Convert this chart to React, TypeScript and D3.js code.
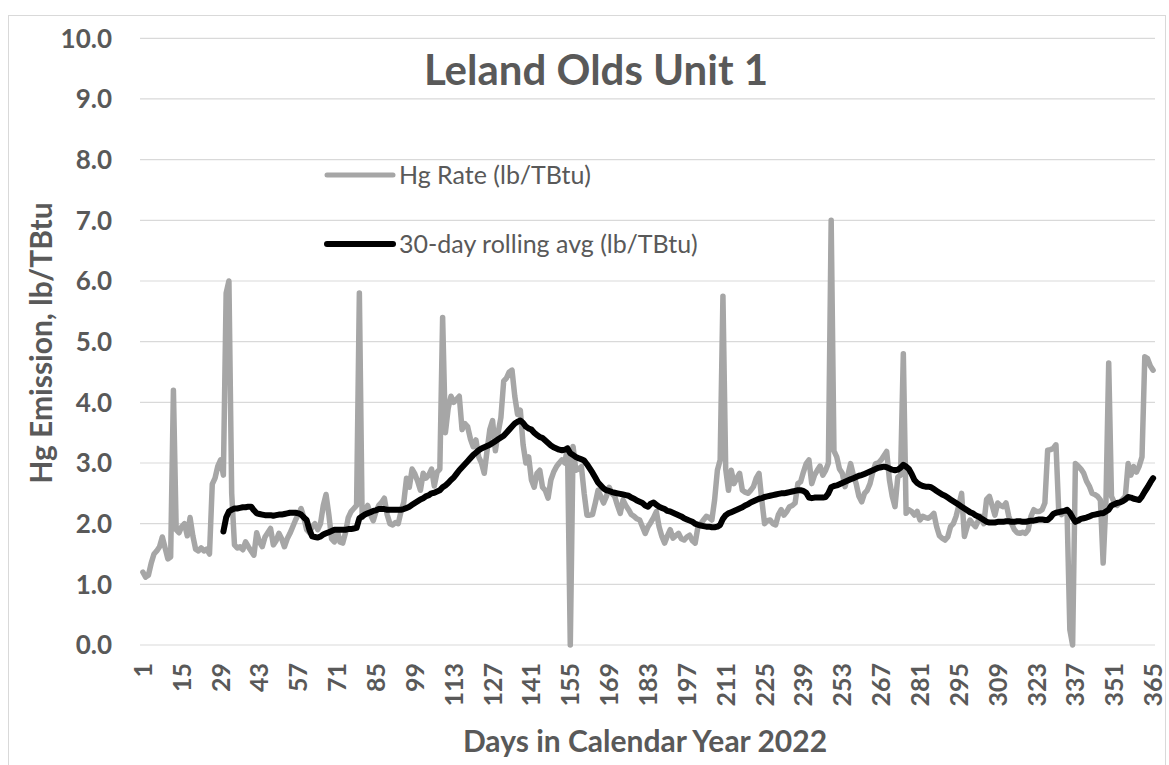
import React from 'react';
import * as d3 from 'd3';

// Hg rate per day, days 1..365 (lb/TBtu)
const hgRate: number[] = [
  1.2, 1.12, 1.15, 1.35, 1.5, 1.55, 1.62, 1.78, 1.6, 1.42,
  1.45, 4.2, 1.9, 1.85, 1.95, 2.0, 1.8, 2.1, 1.8, 1.58,
  1.55, 1.6, 1.55, 1.58, 1.5, 2.65, 2.75, 2.95, 3.05, 2.8,
  5.8, 6.0, 2.5, 1.65, 1.6, 1.62, 1.57, 1.7, 1.62, 1.55,
  1.48, 1.85, 1.7, 1.62, 1.78, 1.85, 1.92, 1.65, 1.72, 1.84,
  1.75, 1.62, 1.75, 1.84, 1.95, 2.06, 2.15, 2.25, 2.1, 1.9,
  1.85, 1.95, 2.0, 1.9, 2.0, 2.3, 2.48, 2.15, 1.75, 1.7,
  1.9, 1.7, 1.68, 1.85, 2.1, 2.2, 2.25, 2.3, 5.8, 2.1,
  2.2, 2.3, 2.15, 2.05, 2.2, 2.3, 2.35, 2.42, 2.15, 2.0,
  1.98, 2.02, 2.0, 2.2, 2.35, 2.75, 2.6, 2.9, 2.82, 2.7,
  2.55, 2.83, 2.75, 2.8, 2.9, 2.62, 2.85, 2.9, 5.4, 3.5,
  3.9, 4.1, 4.0, 4.05, 4.1, 3.55, 3.65, 3.6, 3.4, 3.27,
  3.38, 3.1, 3.0, 2.83, 3.2, 3.55, 3.7, 3.2, 3.5, 3.75,
  4.35, 4.4, 4.5, 4.53, 4.1, 3.8, 3.87, 3.3, 3.0, 3.1,
  2.72, 2.6, 2.83, 2.88, 2.6, 2.55, 2.42, 2.72, 2.85, 2.94,
  3.0, 3.05, 3.0, 3.25, 0.0, 3.27, 2.88, 2.9, 2.94, 2.5,
  2.14, 2.14, 2.15, 2.34, 2.55, 2.45, 2.34, 2.45, 2.6, 2.5,
  2.45, 2.3, 2.17, 2.39, 2.3, 2.23, 2.15, 2.12, 2.08, 2.06,
  1.95, 1.84, 1.95, 2.02, 2.1, 2.2, 1.95, 1.79, 1.68, 1.8,
  1.9, 1.76, 1.8, 1.84, 1.75, 1.73, 1.78, 1.81, 1.72, 1.68,
  1.95, 2.0, 2.06, 2.12, 2.1, 2.06, 2.39, 2.88, 3.05, 5.75,
  2.9, 2.55, 2.88, 2.66, 2.75, 2.83, 2.55, 2.52, 2.5, 2.55,
  2.61, 2.75, 2.83, 2.39, 2.0, 2.05, 2.06, 2.0, 1.98, 2.15,
  2.23, 2.14, 2.2, 2.28, 2.3, 2.34, 2.66, 2.69, 2.85, 2.99,
  3.05, 2.66, 2.8, 2.88, 2.95, 2.8, 2.88, 3.0, 7.0, 3.2,
  3.1, 2.9, 2.83, 2.61, 2.8, 2.99, 2.8, 2.66, 2.45, 2.36,
  2.5, 2.55, 2.66, 2.85, 2.99, 3.0, 3.05, 3.12, 3.19, 2.72,
  2.45, 2.28, 2.77, 2.8, 4.8, 2.17, 2.23, 2.2, 2.14, 2.2,
  2.06, 2.12, 2.1, 2.09, 2.12, 2.17, 1.95, 1.8, 1.76, 1.73,
  1.78, 1.95, 2.0, 2.12, 2.3, 2.5, 1.79, 1.95, 2.06, 2.0,
  1.95, 2.05, 2.12, 2.0, 2.4, 2.45, 2.3, 2.14, 2.34, 2.3,
  2.28, 2.34, 2.12, 2.0, 1.9, 1.85, 1.84, 1.86, 1.84, 1.9,
  2.12, 2.23, 2.2, 2.2, 2.23, 2.34, 3.21, 3.22, 3.24, 3.3,
  2.2, 2.15, 2.2, 2.18, 0.25, 0.0, 2.99, 2.95, 2.9, 2.83,
  2.7, 2.62, 2.5, 2.48, 2.45, 2.39, 1.35, 2.35, 4.65, 2.45,
  2.35, 2.3, 2.35, 2.4, 2.45, 2.99, 2.8, 2.94, 2.85, 2.95,
  3.1, 4.75, 4.72, 4.6, 4.53,
];

// 30-day rolling average, days 30..365
const rollingStartDay = 30;
const rollingAvg: number[] = [
  1.87, 2.1, 2.2, 2.23, 2.25, 2.25, 2.26, 2.27, 2.27, 2.28,
  2.28, 2.22, 2.17, 2.16, 2.15, 2.14, 2.14, 2.14, 2.13, 2.14,
  2.15, 2.15, 2.16, 2.17, 2.18, 2.18, 2.18, 2.17, 2.15, 2.1,
  2.06, 1.9, 1.79, 1.78, 1.77, 1.79, 1.82, 1.84, 1.86, 1.88,
  1.9, 1.9, 1.9, 1.9, 1.9, 1.91, 1.91, 1.92, 1.93, 2.09,
  2.12, 2.15, 2.17, 2.19, 2.21, 2.22, 2.24, 2.24, 2.24, 2.23,
  2.23, 2.23, 2.23, 2.23, 2.23, 2.24, 2.26, 2.28, 2.31, 2.34,
  2.37, 2.4, 2.42, 2.45, 2.47, 2.5, 2.51, 2.53, 2.55, 2.6,
  2.63, 2.67, 2.72, 2.76, 2.82, 2.88, 2.93, 2.98, 3.03, 3.08,
  3.13, 3.17, 3.21, 3.24, 3.26, 3.28, 3.3, 3.33, 3.36, 3.39,
  3.42, 3.45, 3.5, 3.55, 3.6, 3.65, 3.68, 3.7, 3.66, 3.6,
  3.57, 3.55, 3.5, 3.46, 3.43, 3.41, 3.37, 3.33, 3.29, 3.26,
  3.24, 3.22, 3.21, 3.22, 3.24, 3.16, 3.13, 3.1, 3.08, 3.06,
  3.04, 2.98, 2.91, 2.84, 2.76, 2.68, 2.63, 2.58, 2.55, 2.54,
  2.52, 2.51, 2.5, 2.49, 2.48, 2.47, 2.46, 2.43, 2.41, 2.38,
  2.36, 2.34, 2.3, 2.28, 2.33, 2.35, 2.31, 2.28, 2.26, 2.24,
  2.21, 2.2, 2.18, 2.16, 2.14, 2.12, 2.09, 2.07, 2.05, 2.03,
  2.0, 1.98, 1.97, 1.96, 1.95, 1.95, 1.94, 1.94, 1.95, 1.98,
  2.08, 2.14, 2.17, 2.19, 2.21, 2.23, 2.25, 2.27, 2.3, 2.32,
  2.35, 2.37, 2.39, 2.41, 2.42, 2.44, 2.45, 2.46, 2.47, 2.48,
  2.49, 2.5, 2.5, 2.51, 2.52, 2.53, 2.54, 2.55, 2.55, 2.54,
  2.51, 2.43, 2.42, 2.43, 2.43, 2.43, 2.43, 2.44, 2.5, 2.6,
  2.62, 2.63, 2.65, 2.67, 2.69, 2.71, 2.73, 2.75, 2.77, 2.79,
  2.8, 2.82, 2.84, 2.86, 2.88, 2.9, 2.92, 2.93, 2.94, 2.93,
  2.91, 2.89, 2.88, 2.89, 2.92, 2.97, 2.94, 2.9, 2.82, 2.72,
  2.67, 2.64, 2.62, 2.61, 2.61, 2.6, 2.57, 2.54, 2.51, 2.48,
  2.46, 2.43, 2.4, 2.37, 2.34, 2.31, 2.28, 2.25, 2.22, 2.19,
  2.17, 2.14, 2.12, 2.09, 2.06, 2.03, 2.02, 2.02, 2.02, 2.03,
  2.03, 2.03, 2.04, 2.04, 2.03, 2.03, 2.04, 2.04, 2.03, 2.03,
  2.04, 2.05, 2.05, 2.06, 2.07, 2.07, 2.06, 2.06, 2.1, 2.16,
  2.18, 2.19, 2.2, 2.21, 2.23, 2.18, 2.1, 2.03, 2.05, 2.08,
  2.09, 2.1, 2.12, 2.14, 2.15, 2.16, 2.17, 2.17, 2.2, 2.23,
  2.3, 2.32, 2.34, 2.35, 2.37, 2.4, 2.44, 2.43, 2.41, 2.4,
  2.39, 2.45, 2.53, 2.6, 2.68, 2.75,
];

const days: number[] = d3.range(1, 366);
const dayTicks: number[] = days.filter((d) => (d - 1) % 14 === 0);
const yTicks: number[] = [0, 1, 2, 3, 4, 5, 6, 7, 8, 9, 10];

const W = 1169;
const H = 765;
const FONT = 'Lato, "Open Sans", sans-serif';
const TEXT = '#595959';
const GRAY = '#A6A6A6';

const App = () => {
  const x = d3
    .scaleBand<number>()
    .domain(days)
    .range([141.5, 1154.5]);
  const xc = (d: number) => (x(d) ?? 0) + x.bandwidth() / 2;

  const y = d3.scaleLinear().domain([0, 10]).range([645, 38.3]);

  const line = d3
    .line<[number, number]>()
    .x((d) => xc(d[0]))
    .y((d) => y(d[1]));

  const rateSeries: [number, number][] = hgRate.map((v, i) => [days[i], v]);
  const avgSeries: [number, number][] = rollingAvg.map((v, i) => [rollingStartDay + i, v]);

  return (
    <svg
      width={W}
      height={H}
      style={{ position: 'absolute', left: 0, top: 0, background: '#fff' }}
      fontFamily={FONT}
    >
      <rect x={8.5} y={15.5} width={1157} height={760} fill="#fff" stroke="#D9D9D9" />

      {/* gridlines */}
      {yTicks.map((t) => (
        <line key={t} x1={140} x2={1155} y1={y(t)} y2={y(t)} stroke="#D9D9D9" strokeWidth={1.2} />
      ))}

      {/* y tick labels */}
      {yTicks.map((t) => (
        <text
          key={t}
          x={112}
          y={y(t)}
          dy="0.36em"
          textAnchor="end"
          fontSize={26}
          fontWeight="bold"
          fill={TEXT}
        >
          {t.toFixed(1)}
        </text>
      ))}

      {/* x tick labels */}
      {dayTicks.map((d) => (
        <text
          key={d}
          transform={`translate(${xc(d)},663) rotate(-90)`}
          dy="0.36em"
          textAnchor="end"
          fontSize={25}
          fontWeight="bold"
          fill={TEXT}
        >
          {d}
        </text>
      ))}

      {/* series */}
      <path
        d={line(rateSeries) ?? ''}
        fill="none"
        stroke={GRAY}
        strokeWidth={5.5}
        strokeLinejoin="round"
        strokeLinecap="round"
      />
      <path
        d={line(avgSeries) ?? ''}
        fill="none"
        stroke="#000"
        strokeWidth={6}
        strokeLinejoin="round"
        strokeLinecap="round"
      />

      {/* title */}
      <text x={596} y={85} textAnchor="middle" fontSize={42} fontWeight="bold" fill={TEXT}>
        Leland Olds Unit 1
      </text>

      {/* legend */}
      <line x1={327} x2={393} y1={175} y2={175} stroke={GRAY} strokeWidth={5} strokeLinecap="round" />
      <text x={399} y={184} fontSize={25} fill={TEXT}>
        Hg Rate (lb/TBtu)
      </text>
      <line x1={327} x2={393} y1={244} y2={244} stroke="#000" strokeWidth={6} strokeLinecap="round" />
      <text x={399} y={253} fontSize={25} fill={TEXT}>
        30-day rolling avg (lb/TBtu)
      </text>

      {/* axis titles */}
      <text
        transform="translate(41,343) rotate(-90)"
        dy="0.36em"
        textAnchor="middle"
        fontSize={30}
        fontWeight="bold"
        fill={TEXT}
      >
        Hg Emission, lb/TBtu
      </text>
      <text x={645} y={752} textAnchor="middle" fontSize={30} fontWeight="bold" fill={TEXT}>
        Days in Calendar Year 2022
      </text>
    </svg>
  );
};

export default App;
